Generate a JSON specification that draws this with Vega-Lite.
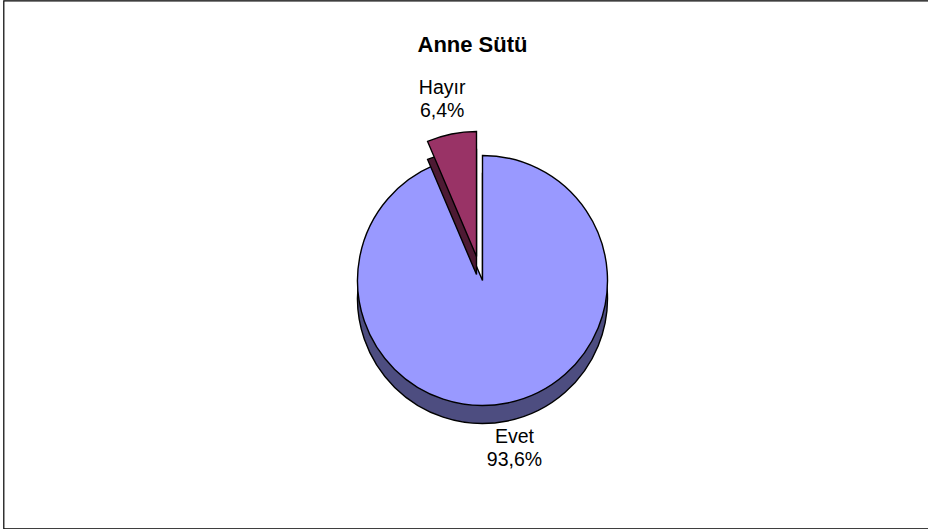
{
  "$schema": "https://vega.github.io/schema/vega-lite/v6.json",
  "width": 926,
  "height": 528,
  "autosize": {"type": "none"},
  "padding": {"left": 3.5, "top": 0.5, "right": 0, "bottom": 0},
  "background": "white",
  "view": {"stroke": "black", "strokeWidth": 1.2, "fill": "white"},
  "title": {"text": "Anne Sütü", "font": "Liberation Sans", "fontSize": 22, "fontWeight": "bold", "color": "black", "anchor": "middle", "offset": -56, "dx": 6},
  "data": {"values": [{"cat": "Evet", "value": 93.6}, {"cat": "Hayır", "value": 6.4}]},
  "transform": [
    {"stack": "value", "groupby": [], "sort": [{"field": "cat", "order": "ascending"}], "as": ["v0", "v1"]},
    {"calculate": "(datum.v0 + datum.v1) / 2", "as": "mid"},
    {"calculate": "datum.cat + '\\n' + replace(format(datum.value, '.1f'), '.', ',') + '%'", "as": "label"}
  ],
  "layer": [
    {
      "transform": [{"filter": "datum.cat == 'Evet'"}],
      "mark": {"type": "arc", "radius": 125, "fill": "#4D4D80", "stroke": "black", "strokeWidth": 1.4, "xOffset": 16, "yOffset": 34},
      "encoding": {
        "theta": {"field": "v0", "type": "quantitative", "scale": {"domain": [0, 100]}},
        "theta2": {"field": "v1"}
      }
    },
    {
      "transform": [{"filter": "datum.cat == 'Evet'"}],
      "mark": {"type": "arc", "radius": 125, "fill": "#9999FF", "stroke": "black", "strokeWidth": 1.4, "xOffset": 16, "yOffset": 16},
      "encoding": {
        "theta": {"field": "v0", "type": "quantitative"},
        "theta2": {"field": "v1"}
      }
    },
    {
      "transform": [{"filter": "datum.cat == 'Hayır'"}],
      "mark": {"type": "arc", "radius": 125, "fill": "#4D1A33", "stroke": "black", "strokeWidth": 1.4, "xOffset": 10, "yOffset": 10},
      "encoding": {
        "theta": {"field": "v0", "type": "quantitative"},
        "theta2": {"field": "v1"}
      }
    },
    {
      "transform": [{"filter": "datum.cat == 'Hayır'"}],
      "mark": {"type": "arc", "radius": 125, "fill": "#993366", "stroke": "black", "strokeWidth": 1.4, "xOffset": 10, "yOffset": -8},
      "encoding": {
        "theta": {"field": "v0", "type": "quantitative"},
        "theta2": {"field": "v1"}
      }
    },
    {
      "transform": [{"filter": "datum.cat == 'Evet'"}],
      "mark": {"type": "text", "radius": 160, "font": "Liberation Sans", "fontSize": 19.5, "color": "black", "lineBreak": "\n", "lineHeight": 23, "align": "center", "baseline": "middle", "xOffset": 16, "yOffset": 16},
      "encoding": {
        "theta": {"field": "mid", "type": "quantitative", "stack": null},
        "text": {"field": "label"}
      }
    },
    {
      "transform": [{"filter": "datum.cat == 'Hayır'"}],
      "mark": {"type": "text", "radius": 172, "font": "Liberation Sans", "fontSize": 19.5, "color": "black", "lineBreak": "\n", "lineHeight": 23, "align": "center", "baseline": "middle", "xOffset": 10, "yOffset": -8},
      "encoding": {
        "theta": {"field": "mid", "type": "quantitative", "stack": null},
        "text": {"field": "label"}
      }
    }
  ]
}
